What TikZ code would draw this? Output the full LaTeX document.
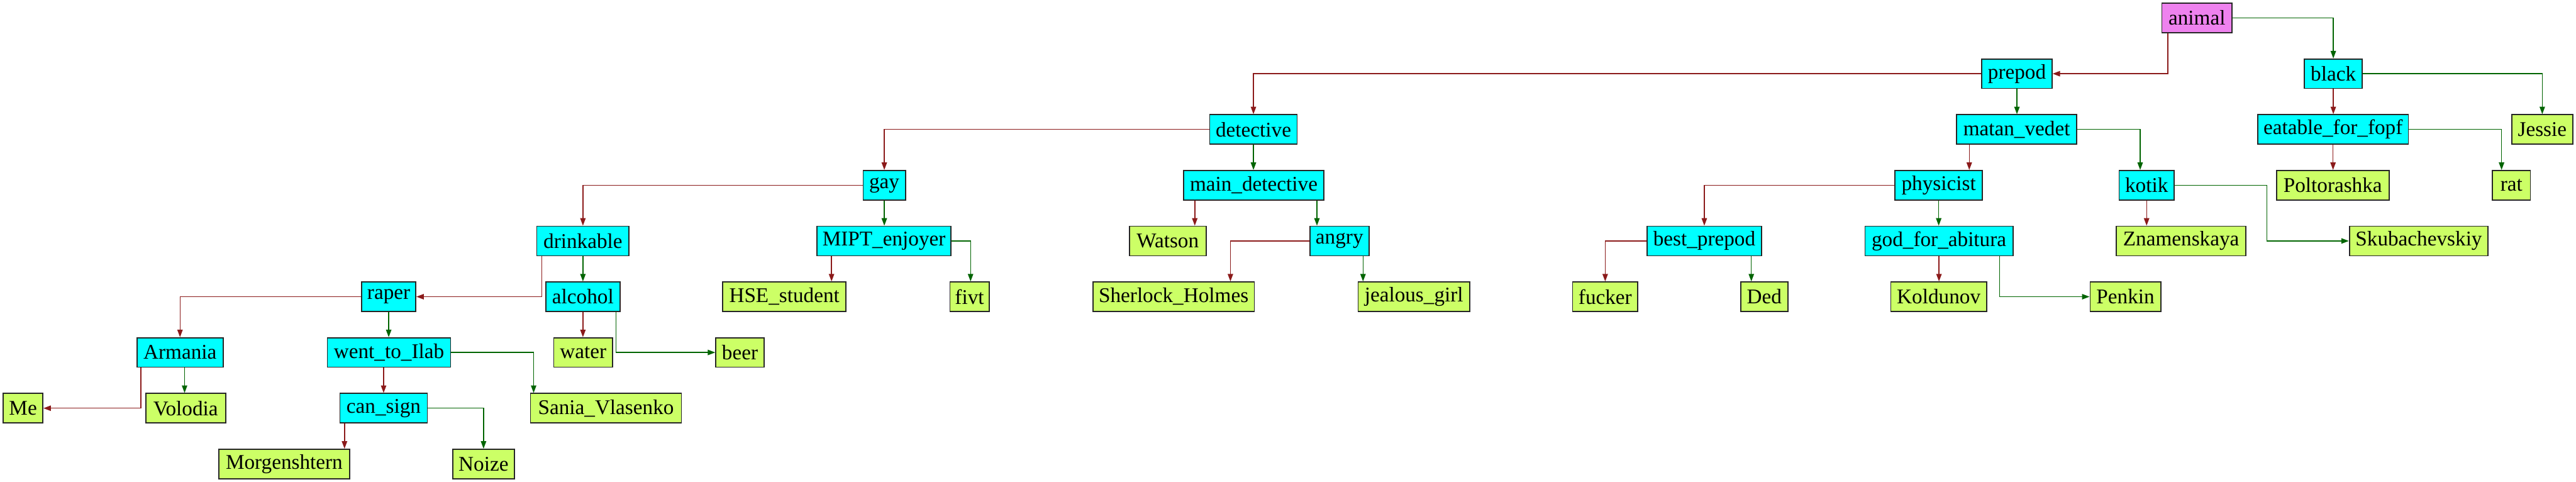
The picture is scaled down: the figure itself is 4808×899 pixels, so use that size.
\documentclass[tikz,border=0pt]{standalone}
\usepackage{fontspec}
\setmainfont{Liberation Serif}
\usetikzlibrary{arrows.meta}
\definecolor{inodecol}{HTML}{00FFFF}
\definecolor{leafcol}{HTML}{CCFF66}
\definecolor{rootcol}{HTML}{EE82EE}
\definecolor{redge}{HTML}{8B1A1A}
\definecolor{gedge}{HTML}{006400}
\tikzset{
  box/.style={draw=black!85, line width=2pt, minimum height=55pt, inner sep=0pt, anchor=center,
    font=\fontsize{39}{47}\selectfont},
  inode/.style={box, fill=inodecol},
  leaf/.style={box, fill=leafcol},
  rootnode/.style={box, fill=rootcol},
  rl/.style={draw=redge, line width=1.7pt, -{Triangle[length=14pt,width=10pt]}},
  gl/.style={draw=gedge, line width=1.7pt, -{Triangle[length=14pt,width=10pt]}},
}
\begin{document}
\begin{tikzpicture}[x=1pt,y=-1pt]
\useasboundingbox[fill=white] (0,0) rectangle (4808,899);
% row 0
\node[rootnode, minimum width=131pt] (animal) at (4100.5,33.5) {animal};
% row 1
\node[inode, minimum width=131pt] (prepod) at (3764.5,137.5) {prepod};
\node[inode, minimum width=108pt] (black) at (4355,137.5) {black};
% row 2
\node[inode, minimum width=163pt] (detective) at (2339.5,241.5) {detective};
\node[inode, minimum width=224pt] (matan) at (3764,241.5) {matan\_vedet};
\node[inode, minimum width=281pt] (eatable) at (4354.5,241.5) {eatable\_for\_fopf};
\node[leaf, minimum width=114pt] (Jessie) at (4745,241.5) {Jessie};
% row 3
\node[inode, minimum width=79pt] (gay) at (1650.5,345.5) {gay};
\node[inode, minimum width=262pt] (maindet) at (2340,345.5) {main\_detective};
\node[inode, minimum width=163pt] (physicist) at (3618.5,345.5) {physicist};
\node[inode, minimum width=103pt] (kotik) at (4006.5,345.5) {kotik};
\node[leaf, minimum width=210pt] (Poltorashka) at (4354,345.5) {Poltorashka};
\node[leaf, minimum width=71pt] (rat) at (4687.5,345.5) {rat};
% row 4
\node[inode, minimum width=172pt] (drinkable) at (1088,449.5) {drinkable};
\node[inode, minimum width=250pt] (MIPT) at (1650,449.5) {MIPT\_enjoyer};
\node[leaf, minimum width=143pt] (Watson) at (2179.5,449.5) {Watson};
\node[inode, minimum width=110pt] (angry) at (2500,449.5) {angry};
\node[inode, minimum width=214pt] (bestprepod) at (3181,449.5) {best\_prepod};
\node[inode, minimum width=276pt] (god) at (3619,449.5) {god\_for\_abitura};
\node[leaf, minimum width=242pt] (Znamenskaya) at (4071,449.5) {Znamenskaya};
\node[leaf, minimum width=259pt] (Skub) at (4514.5,449.5) {Skubachevskiy};
% row 5
\node[inode, minimum width=101pt] (raper) at (725.5,553.5) {raper};
\node[inode, minimum width=138pt] (alcohol) at (1088,553.5) {alcohol};
\node[leaf, minimum width=230pt] (HSE) at (1464,553.5) {HSE\_student};
\node[leaf, minimum width=73pt] (fivt) at (1809.5,553.5) {fivt};
\node[leaf, minimum width=301pt] (Sherlock) at (2190.5,553.5) {Sherlock\_Holmes};
\node[leaf, minimum width=208pt] (jealous) at (2639,553.5) {jealous\_girl};
\node[leaf, minimum width=122pt] (fucker) at (2996,553.5) {fucker};
\node[leaf, minimum width=88pt] (Ded) at (3293,553.5) {Ded};
\node[leaf, minimum width=179pt] (Koldunov) at (3618.5,553.5) {Koldunov};
\node[leaf, minimum width=132pt] (Penkin) at (3967,553.5) {Penkin};
% row 6
\node[inode, minimum width=161pt] (Armania) at (336,657.5) {Armania};
\node[inode, minimum width=230pt] (went) at (726,657.5) {went\_to\_Ilab};
\node[leaf, minimum width=110pt] (water) at (1088.5,657.5) {water};
\node[leaf, minimum width=90pt] (beer) at (1381,657.5) {beer};
% row 7
\node[leaf, minimum width=74pt] (Me) at (43,761.5) {Me};
\node[leaf, minimum width=149pt] (Volodia) at (346.5,761.5) {Volodia};
\node[inode, minimum width=163pt] (cansign) at (716,761.5) {can\_sign};
\node[leaf, minimum width=282pt] (Sania) at (1131,761.5) {Sania\_Vlasenko};
% row 8
\node[leaf, minimum width=244pt] (Morgenshtern) at (530.5,865.5) {Morgenshtern};
\node[leaf, minimum width=115pt] (Noize) at (902.5,865.5) {Noize};

% edges
\draw[rl] ([xshift=-54.5pt]animal.south) |- (prepod.east);
\draw[gl] (animal.east) -| (black.north);
\draw[rl] (prepod.west) -| (detective.north);
\draw[gl] (prepod.south) coordinate (t) -- (t |- matan.north);
\draw[rl] (black.south) coordinate (t) -- (t |- eatable.north);
\draw[gl] (black.east) -| (Jessie.north);
\draw[rl] ([xshift=-88.5pt]matan.south) coordinate (t) -- (t |- physicist.north);
\draw[gl] (matan.east) -| ([xshift=-12pt]kotik.north);
\draw[rl] (eatable.south) coordinate (t) -- (t |- Poltorashka.north);
\draw[gl] (eatable.east) -| ([xshift=-18.5pt]rat.north);
\draw[rl] (kotik.south) coordinate (t) -- (t |- Znamenskaya.north);
\draw[gl] (kotik.east) -| ([xshift=-153pt]Skub.west) -- (Skub.west);
\draw[rl] (physicist.west) -| (bestprepod.north);
\draw[gl] (physicist.south) coordinate (t) -- (t |- god.north);
\draw[rl] (bestprepod.west) -| (fucker.north);
\draw[gl] ([xshift=87.75pt]bestprepod.south) coordinate (t) -- (t |- Ded.north);
\draw[rl] (god.south) coordinate (t) -- (t |- Koldunov.north);
\draw[gl] ([xshift=113pt]god.south) |- (Penkin.west);
\draw[rl] (detective.west) -| (gay.north);
\draw[gl] (detective.south) coordinate (t) -- (t |- maindet.north);
\draw[rl] (gay.west) -| (drinkable.north);
\draw[gl] (gay.south) coordinate (t) -- (t |- MIPT.north);
\draw[rl] ([xshift=-110pt]maindet.south) coordinate (t) -- (t |- Watson.north);
\draw[gl] ([xshift=118pt]maindet.south) coordinate (t) -- (t |- angry.north);
\draw[rl] ([xshift=-98pt]MIPT.south) coordinate (t) -- (t |- HSE.north);
\draw[gl] (MIPT.east) -| ([xshift=2pt]fivt.north);
\draw[rl] (angry.west) -| ([xshift=106pt]Sherlock.north);
\draw[gl] ([xshift=44pt]angry.south) coordinate (t) -- (t |- jealous.north);
\draw[rl] ([xshift=-76.5pt]drinkable.south) |- (raper.east);
\draw[gl] (drinkable.south) coordinate (t) -- (t |- alcohol.north);
\draw[rl] (raper.west) -| (Armania.north);
\draw[gl] (raper.south) coordinate (t) -- (t |- went.north);
\draw[rl] (alcohol.south) coordinate (t) -- (t |- water.north);
\draw[gl] ([xshift=62pt]alcohol.south) |- (beer.west);
\draw[rl] ([xshift=-73pt]Armania.south) |- (Me.east);
\draw[gl] ([xshift=8.5pt]Armania.south) coordinate (t) -- (t |- Volodia.north);
\draw[rl] ([xshift=-10pt]went.south) coordinate (t) -- (t |- cansign.north);
\draw[gl] (went.east) -| ([xshift=-135pt]Sania.north);
\draw[rl] ([xshift=-73pt]cansign.south) coordinate (t) -- (t |- Morgenshtern.north);
\draw[gl] (cansign.east) -| (Noize.north);
\end{tikzpicture}
\end{document}
